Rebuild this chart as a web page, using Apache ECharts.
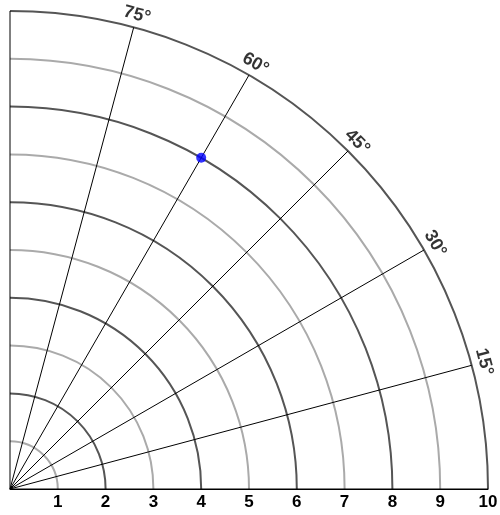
<!DOCTYPE html>
<html><head><meta charset="utf-8">
<script src="https://cdn.jsdelivr.net/npm/echarts@6/dist/echarts.min.js"></script>
<style>html,body{margin:0;padding:0;background:#fff}#c{width:500px;height:515px}</style>
</head><body><div id="c"></div>
<script>
var angleTicks = [15, 30, 45, 60, 75];
var radiusTicks = [1, 2, 3, 4, 5, 6, 7, 8, 9, 10];
var pointR = [8];
var pointTheta = [60];

var chart = echarts.init(document.getElementById('c'), null, {renderer: 'canvas'});
var labelR = 10.27;
var labelData = angleTicks.map(function (a) {
  return {
    value: [labelR, a],
    label: {
      show: true, position: 'inside',
      rotate: a - 90,
      formatter: a + '°',
      color: '#000', fontSize: 18, fontWeight: 'bold', fontFamily: 'Liberation Sans, Arial',
      textBorderColor: 'rgba(0,0,0,0)', textBorderWidth: 0
    }
  };
});
chart.setOption({
  animation: false,
  polar: {center: [10, 489], radius: 478},
  angleAxis: {
    type: 'value', min: 0, max: 90, interval: 15,
    startAngle: 0, endAngle: 90, clockwise: false,
    axisLine: {show: false}, axisTick: {show: false}, axisLabel: {show: false},
    splitLine: {show: true, lineStyle: {color: '#000', width: 1}}
  },
  radiusAxis: {
    type: 'value', min: 0, max: 10, interval: 1,
    axisLine: {show: true, lineStyle: {color: '#000', width: 1}},
    axisTick: {show: false},
    axisLabel: {
      color: '#000', fontSize: 17, fontWeight: 'bold', fontFamily: 'Liberation Sans, Arial',
      margin: -13, verticalAlign: 'middle',
      formatter: function (v) { return v === 0 ? '' : String(v); }
    },
    splitLine: {show: true, lineStyle: {color: ['#555', '#aaa'], width: 2}}
  },
  series: [
    {
      type: 'scatter', coordinateSystem: 'polar', symbolSize: 1, silent: true, clip: false,
      itemStyle: {color: 'rgba(0,0,0,0)'},
      data: labelData
    },
    {
      type: 'scatter', coordinateSystem: 'polar', symbolSize: 10,
      itemStyle: {color: '#0000ff'},
      data: pointR.map(function (r, i) { return [r, pointTheta[i]]; })
    }
  ]
});
</script></body></html>
